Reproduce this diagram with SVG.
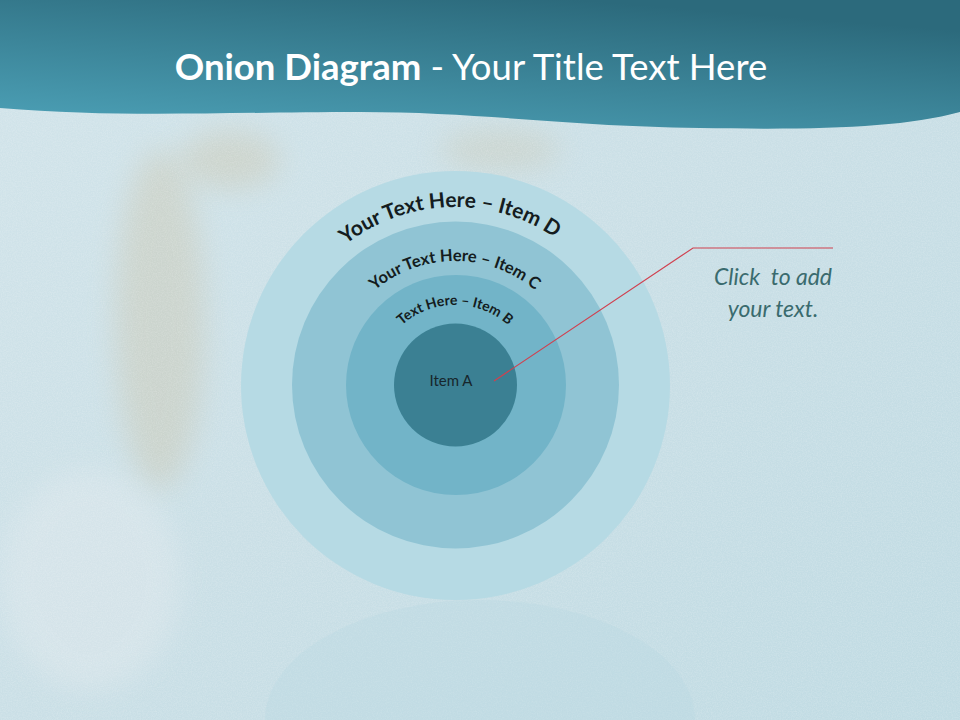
<svg xmlns="http://www.w3.org/2000/svg" width="960" height="720" viewBox="0 0 960 720">
<defs>
<style>
.arc{font-family:Lato,"Open Sans",sans-serif;font-weight:bold;fill:#141c20}
.lbl{font-family:Lato,"Open Sans",sans-serif}
</style>
<linearGradient id="bg" x1="0" y1="0" x2="1" y2="1">
<stop offset="0" stop-color="#d2e4ea"/>
<stop offset="0.5" stop-color="#cadfe6"/>
<stop offset="1" stop-color="#c0dbe3"/>
</linearGradient>
<linearGradient id="hd" x1="0" y1="1" x2="0.6" y2="0">
<stop offset="0" stop-color="#4da2b8"/>
<stop offset="1" stop-color="#2c6a7c"/>
</linearGradient>
<filter id="blur" x="-50%" y="-50%" width="200%" height="200%"><feGaussianBlur stdDeviation="14"/></filter>
<filter id="tex" x="0" y="0" width="100%" height="100%">
<feTurbulence type="fractalNoise" baseFrequency="0.8" numOctaves="2" seed="3"/>
<feColorMatrix type="matrix" values="0 0 0 0 1  0 0 0 0 1  0 0 0 0 1  0 0 0 0.9 -0.3"/>
</filter>
<path id="pD" d="M 277 385 A 178 178 0 0 1 633 385"/>
<path id="pC" d="M 331 385 A 124 124 0 0 1 579 385"/>
<path id="pB" d="M 375 385 A 80 80 0 0 1 535 385"/>
</defs>
<g id="background">
<rect width="960" height="720" fill="url(#bg)"/>
<ellipse cx="160" cy="320" rx="45" ry="170" fill="#c9b893" opacity="0.3" filter="url(#blur)"/>
<ellipse cx="230" cy="160" rx="50" ry="30" fill="#c9b893" opacity="0.3" filter="url(#blur)"/>
<ellipse cx="500" cy="150" rx="60" ry="22" fill="#c9b893" opacity="0.25" filter="url(#blur)"/>
<ellipse cx="90" cy="580" rx="90" ry="110" fill="#e2eaee" opacity="0.45" filter="url(#blur)"/>
<rect width="960" height="720" filter="url(#tex)" opacity="0.35"/>
<path d="M 265 720 A 215 120 0 0 1 695 720 Z" fill="#b5d8e2" opacity="0.3"/>
</g>
<g id="header">
<path d="M0 0 H960 V112 C 900 128 820 130 700 128 C 560 126 480 112 360 112 C 220 112 120 118 0 108 Z" fill="url(#hd)"/>
<text x="471" y="80" text-anchor="middle" font-family="Lato,'Open Sans',sans-serif" font-size="36.5" fill="#ffffff"><tspan font-weight="bold">Onion Diagram</tspan> - Your Title Text Here</text>
</g>
<g id="item-D">
<circle cx="455.5" cy="385.5" r="214.5" fill="#b6dae4"/>
<text class="arc" font-size="21"><textPath href="#pD" startOffset="49%" text-anchor="middle">Your Text Here – Item D</textPath></text>
</g>
<g id="item-C">
<circle cx="455.5" cy="385" r="163.5" fill="#90c4d4"/>
<text class="arc" font-size="16.5"><textPath href="#pC" startOffset="50%" text-anchor="middle">Your Text Here – Item C</textPath></text>
</g>
<g id="item-B">
<circle cx="456" cy="385" r="110" fill="#72b4c8"/>
<text class="arc" font-size="14"><textPath href="#pB" startOffset="50%" text-anchor="middle">Text Here – Item B</textPath></text>
</g>
<g id="item-A">
<circle cx="455.5" cy="385" r="61.5" fill="#3b8093"/>
<text class="lbl" x="451" y="386" text-anchor="middle" font-size="15" fill="#17262c">Item A</text>
</g>
<g id="connectors">
<polyline points="494,381 693,248 833,248" fill="none" stroke="#d0404f" stroke-width="1.2"/>
</g>
<g id="callout">
<text class="lbl" x="773" y="285" text-anchor="middle" font-size="23" font-style="italic" fill="#3a6b6e" xml:space="preserve">Click  to add</text>
<text class="lbl" x="773" y="317" text-anchor="middle" font-size="23" font-style="italic" fill="#3a6b6e">your text.</text>
</g>
</svg>
